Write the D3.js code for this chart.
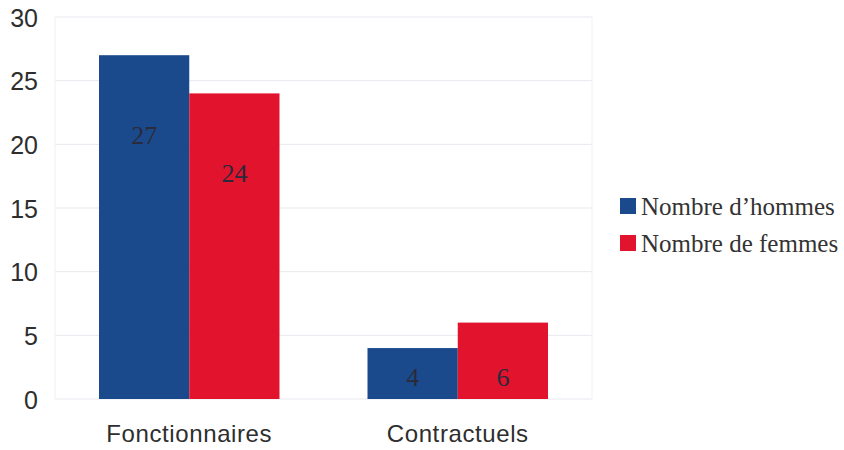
<!DOCTYPE html>
<html>
<head>
<meta charset="utf-8">
<script src="https://cdn.jsdelivr.net/npm/d3@7"></script>
<style>
  body { margin: 0; background: #fff; }
  svg { display: block; }
</style>
</head>
<body>
<svg id="chart" width="844" height="450"></svg>
<script>
// chart values
const categories = ["Fonctionnaires", "Contractuels"];
const seriesNames = ["Nombre d\u2019hommes", "Nombre de femmes"];
const hommes = [27, 4];
const femmes = [24, 6];
const yTicks = [0, 5, 10, 15, 20, 25, 30];

const colors = ["#1b4a8c", "#e2132d"];

let svg = d3.select("#chart");

// scales
let y = d3.scaleLinear().domain([0, 30]).range([399, 17]);
let x0 = d3.scaleBand().domain(categories).range([55, 592]).padding(0);
let x1 = d3.scaleBand().domain(seriesNames).range([44, x0.bandwidth() - 44]);

// gridlines
svg.append("g")
    .selectAll("line")
    .data(yTicks)
    .enter()
    .append("line")
    .attr("x1", 55)
    .attr("x2", 592)
    .attr("y1", d => y(d))
    .attr("y2", d => y(d))
    .attr("stroke", "#e6e9ee")
    .attr("stroke-width", 1);

// faint frame sides
[55, 592].forEach(xv => {
    svg.append("line")
        .attr("x1", xv).attr("x2", xv)
        .attr("y1", y(30)).attr("y2", y(0))
        .attr("stroke", "#eef0f3");
});

// y axis labels
let yAxis = svg.append("g")
    .attr("transform", "translate(46,1)")
    .call(d3.axisLeft(y).tickValues(yTicks).tickSize(0).tickPadding(8));
yAxis.select(".domain").remove();
yAxis.selectAll("text")
    .attr("font-family", "Liberation Sans, Arial, sans-serif")
    .attr("font-size", 25)
    .attr("fill", "#2e2e2e");

// x axis labels
let xAxis = svg.append("g")
    .attr("transform", "translate(0,442)")
    .call(d3.axisBottom(x0).tickSize(0).tickPadding(0));
xAxis.select(".domain").remove();
xAxis.selectAll("text")
    .attr("dy", 0)
    .attr("font-family", "Liberation Sans, Arial, sans-serif")
    .attr("font-size", 24)
    .attr("letter-spacing", 0.6)
    .attr("fill", "#2e2e2e");

// bars
let rows = categories.map((c, i) => ({
    cat: c,
    values: [
        { name: seriesNames[0], v: hommes[i], color: colors[0] },
        { name: seriesNames[1], v: femmes[i], color: colors[1] }
    ]
}));

let groups = svg.append("g")
    .selectAll("g")
    .data(rows)
    .enter()
    .append("g")
    .attr("transform", d => `translate(${x0(d.cat)},0)`);

groups.selectAll("rect")
    .data(d => d.values)
    .enter()
    .append("rect")
    .attr("x", d => x1(d.name))
    .attr("width", x1.bandwidth())
    .attr("y", d => y(d.v))
    .attr("height", d => y(0) - y(d.v))
    .attr("fill", d => d.color);

// value labels inside bars
groups.selectAll("text.val")
    .data(d => d.values)
    .enter()
    .append("text")
    .attr("class", "val")
    .attr("x", d => x1(d.name) + x1.bandwidth() / 2)
    .attr("y", d => Math.min(y(d.v) + 80, y(0) - 22) + 9)
    .attr("text-anchor", "middle")
    .attr("font-family", "Liberation Serif, Times New Roman, serif")
    .attr("font-size", 26)
    .attr("fill", "#2a2a3a")
    .text(d => d.v);

// legend
let legend = svg.append("g");
seriesNames.forEach((name, i) => {
    legend.append("rect")
        .attr("x", 620)
        .attr("y", 198 + i * 37)
        .attr("width", 16)
        .attr("height", 16)
        .attr("fill", colors[i]);
    legend.append("text")
        .attr("x", 641)
        .attr("y", 215 + i * 37)
        .attr("font-family", "Liberation Serif, Times New Roman, serif")
        .attr("font-size", 25)
        .attr("fill", "#333")
        .text(name);
});
</script>
</body>
</html>
